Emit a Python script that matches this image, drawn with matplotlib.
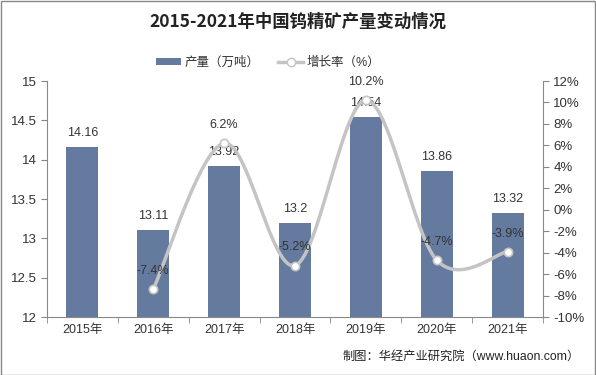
import numpy as np
import matplotlib
matplotlib.use('Agg')
import matplotlib.pyplot as plt
from matplotlib.lines import Line2D
from matplotlib.patches import Patch, Rectangle

plt.rcParams['font.family'] = ['Liberation Sans', 'Noto Sans CJK SC', 'DejaVu Sans']

years = ['2015年', '2016年', '2017年', '2018年', '2019年', '2020年', '2021年']
output = [14.16, 13.11, 13.92, 13.2, 14.54, 13.86, 13.32]
growth = [None, -7.4, 6.2, -5.2, 10.2, -4.7, -3.9]

bar_color = '#657a9f'
line_color = '#c4c4c4'
text_color = '#333333'


def catmull_rom(xs, ys, n=30):
    # 平滑曲线 (类似 Excel 的平滑线)
    pts = np.column_stack([xs, ys])
    pts = np.vstack([pts[0], pts, pts[-1]])
    out = []
    for i in range(1, len(pts) - 2):
        p0, p1, p2, p3 = pts[i - 1], pts[i], pts[i + 1], pts[i + 2]
        t = np.linspace(0, 1, n)[:, None]
        c = 0.5 * ((2 * p1) + (-p0 + p2) * t + (2 * p0 - 5 * p1 + 4 * p2 - p3) * t ** 2
                   + (-p0 + 3 * p1 - 3 * p2 + p3) * t ** 3)
        out.append(c)
    out = np.vstack(out)
    return out[:, 0], out[:, 1]


fig = plt.figure(figsize=(5.96, 3.75), dpi=100)
ax = fig.add_axes([47 / 596, 1 - 317 / 375, (543 - 47) / 596, (317 - 81) / 375])
x = np.arange(len(years))

ax.bar(x, output, width=0.45, color=bar_color, zorder=2)
for xi, v in zip(x, output):
    ax.annotate(f'{v:g}', (xi, v), xytext=(0, 10), textcoords='offset points',
                ha='center', va='center', fontsize=9, color=text_color)

ax.set_ylim(12, 15)
ax.set_yticks(np.arange(12, 15.01, 0.5))
ax.set_yticklabels([f'{v:g}' for v in np.arange(12, 15.01, 0.5)])
ax.set_xlim(-0.5, len(years) - 0.5)
ax.set_xticks(x)
ax.set_xticklabels(years)
ax.set_xticks(np.arange(-0.5, len(years), 1), minor=True)
ax.tick_params(axis='x', which='major', length=0, labelsize=9, colors=text_color, pad=5)
ax.tick_params(axis='x', which='minor', length=4, color='#888888', direction='out')
ax.tick_params(axis='y', length=4, color='#888888', labelsize=9.5, colors=text_color)
for s in ['top', 'right']:
    ax.spines[s].set_visible(False)
for s in ['left', 'bottom']:
    ax.spines[s].set_color('#888888')

ax2 = ax.twinx()
gx = np.array([i for i, g in enumerate(growth) if g is not None], dtype=float)
gy = np.array([g for g in growth if g is not None], dtype=float)
sx, sy = catmull_rom(gx, gy)
ax2.plot(sx, sy, color=line_color, lw=2.5, zorder=3, solid_capstyle='round')
ax2.plot(gx, gy, 'o', ms=6, mfc='white', mec=line_color, mew=1.2, zorder=4)
for xi, g in zip(gx, gy):
    ax2.annotate(f'{g:.1f}%', (xi, g), xytext=(0, 13), textcoords='offset points',
                 ha='center', va='center', fontsize=9, color=text_color)
ax2.set_ylim(-10, 12)
ax2.set_yticks(np.arange(-10, 12.1, 2))
ax2.set_yticklabels([f'{v}%' for v in range(-10, 13, 2)])
ax2.tick_params(axis='y', length=4, color='#888888', labelsize=9.5, colors=text_color)
for s in ['top', 'left', 'bottom']:
    ax2.spines[s].set_visible(False)
ax2.spines['right'].set_color('#888888')

fig.text(0.5, 1 - 22 / 375, '2015-2021年中国钨精矿产量变动情况', ha='center', va='center',
         fontsize=12.5, fontweight='bold', color='#222222',
         family=['Noto Sans CJK SC', 'DejaVu Sans'])

handles = [Patch(facecolor=bar_color, edgecolor='none'),
           Line2D([], [], color=line_color, lw=2.5, marker='o', ms=6, mfc='white', mec=line_color)]
fig.legend(handles, ['产量（万吨）', '增长率（%）'], loc='center', bbox_to_anchor=(0.45, 1 - 63 / 375),
           ncol=2, frameon=False, fontsize=9, handlelength=2.0, handleheight=0.5,
           handletextpad=0.3, columnspacing=1.5, labelcolor=text_color)

fig.text(0.972, 1 - 357 / 375, '制图：华经产业研究院（www.huaon.com）', ha='right', va='center',
         fontsize=8.8, color='#222222')

fig.patches.append(Rectangle((0.5 / 596, 0.5 / 375), 1 - 1.5 / 596, 1 - 1.5 / 375,
                             transform=fig.transFigure, fill=False, edgecolor='#888888', lw=1))

fig.savefig('out.png', dpi=100)
